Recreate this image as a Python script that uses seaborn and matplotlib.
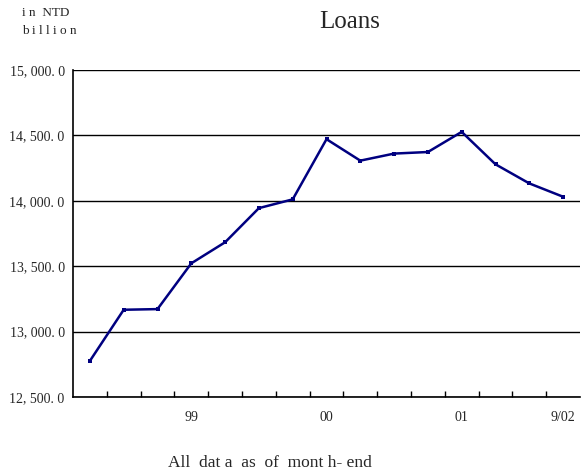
import numpy as np
import pandas as pd
import seaborn as sns
import matplotlib.pyplot as plt
from matplotlib.ticker import FixedLocator, FuncFormatter

# quarterly loans, in NTD billion
quarters = ["98/9", "98/12", "99/3", "99/6", "99/9", "99/12", "00/3", "00/6",
            "00/9", "00/12", "01/3", "01/6", "01/9", "01/12", "9/02"]
loans = [12776, 13167, 13172, 13522, 13683, 13944, 14011, 14471,
         14307, 14361, 14373, 14527, 14279, 14133, 14031]
label_pos = [3, 7, 11, 14]
label_text = ["99", "00", "01", "9/02"]

df = pd.DataFrame({"idx": np.arange(len(loans)), "loans": loans})

sns.set_style("white")
plt.rcParams['font.family'] = ['Liberation Serif', 'DejaVu Serif']

fig = plt.figure(figsize=(5.81, 4.76), dpi=100)
ax = fig.add_axes([73 / 581, 1 - 397 / 476, (580 - 73) / 581, (397 - 70) / 476])

sns.lineplot(data=df, x="idx", y="loans", ax=ax, color="#000080", linewidth=1.8,
             marker="s", markersize=3, markeredgewidth=0)

ax.set_ylim(12500, 15000)
ax.set_xlim(-0.5, len(loans) - 0.5)
ax.set_yticks(np.arange(12500, 15001, 500))
ax.yaxis.set_major_formatter(FuncFormatter(lambda v, p: f"{v:,.1f}".replace(",", ", ").replace(".", ". ")))
ax.yaxis.grid(True, color="black", linewidth=1)
ax.set_axisbelow(True)

ax.xaxis.set_major_locator(FixedLocator(label_pos))
ax.set_xticklabels(label_text)
ax.xaxis.set_minor_locator(FixedLocator(np.arange(0.5, len(loans) - 0.5, 1)))
ax.tick_params(axis="x", which="major", length=0, pad=10, labelsize=10)
ax.tick_params(axis="x", which="minor", direction="in", length=4, width=1, color="black", bottom=True)
ax.tick_params(axis="y", length=0, pad=6, labelsize=10)
ax.set_xlabel("")
ax.set_ylabel("")

for s in ["top", "right"]:
    ax.spines[s].set_visible(False)
for s in ["left", "bottom"]:
    ax.spines[s].set_color("black")
    ax.spines[s].set_linewidth(1.2)

fig.text(350 / 581, 1 - 22 / 476, "Loans", ha="center", va="center", fontsize=18)
fig.text(22 / 581, 1 - 13 / 476, "i n  NTD", ha="left", va="center", fontsize=9.5)
fig.text(22 / 581, 1 - 31 / 476, "b i l l i o n", ha="left", va="center", fontsize=9.5)
fig.text(168 / 581, 1 - 463 / 476, "All  dat a  as  of  mont h- end", ha="left", va="center", fontsize=12.5)

fig.savefig("out.png", dpi=100)
